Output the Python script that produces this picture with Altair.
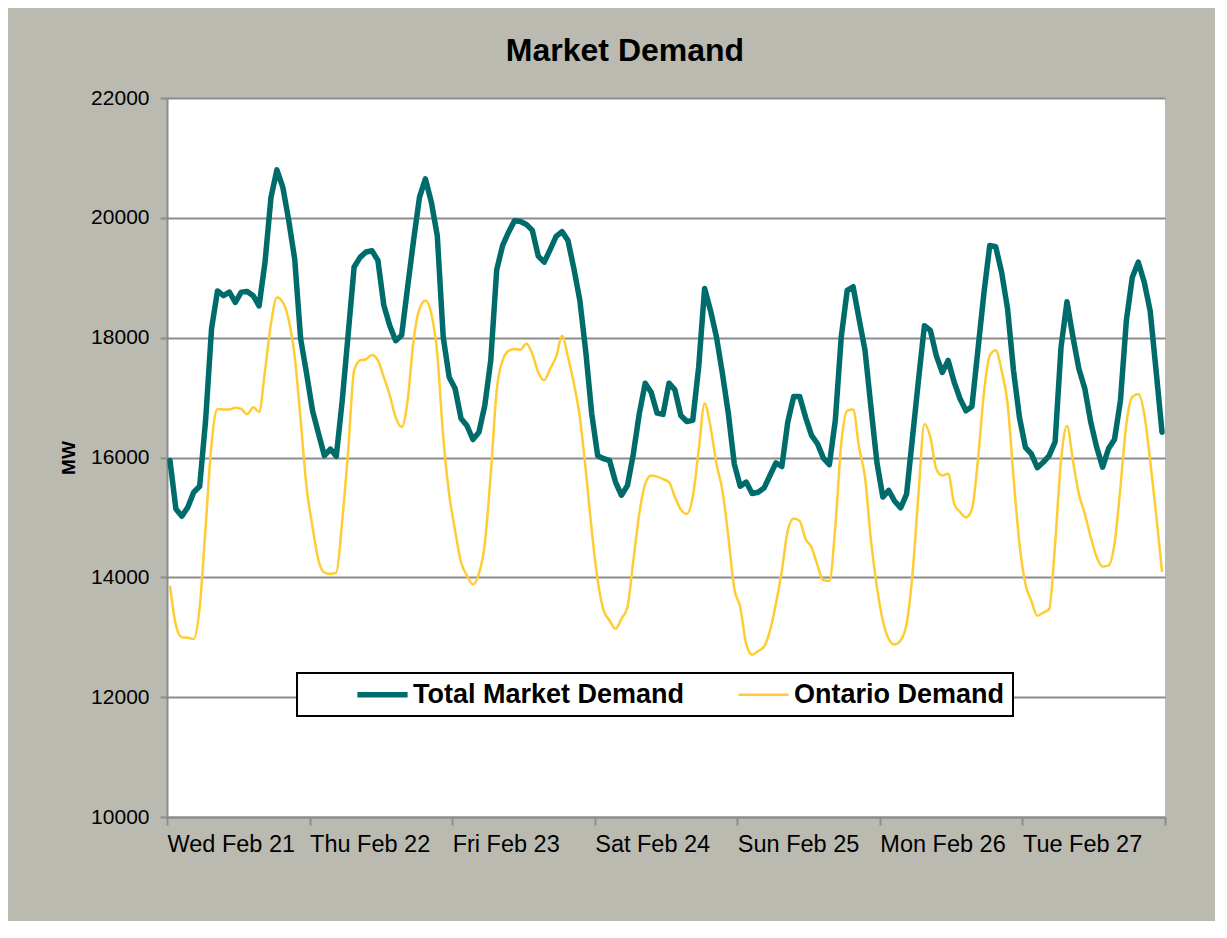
import json
import altair as alt
import pandas as pd

days = ["Wed Feb 21", "Thu Feb 22", "Fri Feb 23", "Sat Feb 24",
        "Sun Feb 25", "Mon Feb 26", "Tue Feb 27"]
series_names = ["Total Market Demand", "Ontario Demand"]
series_colors = ["#006B6B", "#FFCC33"]
series_widths = [5.5, 2.5]
y_ticks = [10000, 12000, 14000, 16000, 18000, 20000, 22000]

# hourly values, one row of 24 per day
total_market = [
    15950, 15140, 15020, 15170, 15420, 15520, 16620, 18150, 18780, 18700, 18760, 18590,
    18760, 18770, 18700, 18530, 19260, 20340, 20800, 20510, 19950, 19310, 17980, 17400,
    16780, 16400, 16030, 16140, 16020, 16950, 18060, 19180, 19340, 19430, 19450, 19290,
    18540, 18200, 17950, 18040, 18840, 19620, 20340, 20650, 20260, 19700, 18010, 17340,
    17150, 16650, 16530, 16300, 16420, 16870, 17620, 19130, 19540, 19760, 19950, 19940,
    19890, 19790, 19360, 19260, 19470, 19690, 19770, 19620, 19150, 18620, 17760, 16730,
    16030, 15980, 15950, 15590, 15370, 15530, 16060, 16730, 17240, 17090, 16740, 16720,
    17240, 17130, 16700, 16600, 16620, 17510, 18820, 18450, 18010, 17400, 16730, 15890,
    15520, 15590, 15400, 15420, 15490, 15700, 15910, 15850, 16590, 17020, 17020, 16670,
    16370, 16230, 15990, 15880, 16620, 18010, 18790, 18850, 18310, 17790, 16840, 15920,
    15340, 15450, 15270, 15160, 15390, 16340, 17290, 18200, 18120, 17700, 17420, 17620,
    17260, 16980, 16780, 16850, 17790, 18730, 19540, 19520, 19090, 18480, 17450, 16670,
    16170, 16060, 15830, 15920, 16030, 16260, 17840, 18600, 18010, 17480, 17150, 16590,
    16170, 15840, 16150, 16300, 16950, 18290, 19010, 19260, 18930, 18450, 17450, 16420,
]
ontario = [
    13860, 13200, 13000, 12990, 12970, 13500, 14840, 16230, 16810, 16800, 16800, 16830,
    16810, 16720, 16840, 16760, 17450, 18230, 18670, 18590, 18290, 17680, 16620, 15500,
    14840, 14280, 14080, 14060, 14080, 14950, 16120, 17450, 17620, 17640, 17710, 17620,
    17340, 17040, 16670, 16510, 16950, 17950, 18480, 18620, 18400, 17730, 16340, 15390,
    14780, 14250, 14030, 13880, 14060, 14560, 15730, 17120, 17620, 17780, 17810, 17800,
    17900, 17730, 17420, 17290, 17480, 17680, 18030, 17680, 17230, 16670, 15780, 14780,
    13950, 13450, 13280, 13140, 13310, 13500, 14280, 15060, 15560, 15700, 15680, 15640,
    15590, 15340, 15130, 15060, 15340, 16120, 16900, 16510, 15890, 15450, 14670, 13810,
    13500, 12890, 12710, 12770, 12840, 13110, 13560, 14110, 14780, 14980, 14940, 14640,
    14500, 14200, 13950, 13940, 14840, 16230, 16780, 16800, 16170, 15670, 14620, 13840,
    13280, 12970, 12880, 12950, 13220, 14060, 15390, 16560, 16340, 15810, 15700, 15730,
    15230, 15090, 15000, 15140, 15950, 17060, 17700, 17790, 17450, 16900, 15670, 14560,
    13890, 13610, 13360, 13410, 13470, 14560, 15950, 16530, 15950, 15390, 15060, 14670,
    14340, 14180, 14200, 14560, 15510, 16560, 17010, 17060, 16730, 15950, 15060, 14090,
]

rows = []
for name, vals in zip(series_names, [total_market, ontario]):
    for i, v in enumerate(vals):
        rows.append({"hour": i + 0.5, "MW": v, "series": name})
df = pd.DataFrame(rows)

FONT = "Liberation Sans"
n_hours = 24 * len(days)
label_expr = f"{json.dumps(days)}[datum.value / 24] || ''"

legend = alt.Legend(
    title=None, orient="none", legendX=130, legendY=575,
    direction="horizontal", columns=2, gridAlign="all",
    padding=8, fillColor="white", strokeColor="black",
    labelFont=FONT, labelFontSize=27, labelFontWeight="bold", labelColor="black",
    labelLimit=500,
    symbolType="M-3,0H3", symbolSize=280, symbolOffset=64, labelOffset=17,
    columnPadding=1,
)

x_enc = alt.X(
    "hour:Q",
    scale=alt.Scale(domain=[0, n_hours], nice=False, zero=False),
    axis=alt.Axis(
        values=list(range(0, n_hours + 1, 24)), labelExpr=label_expr, title=None,
        grid=False, labelAlign="left", labelBaseline="top", labelPadding=7,
        labelFontSize=23.5, tickSize=8, labelOverlap=False, labelBound=False,
        labelFlush=False,
    ),
)
y_enc = alt.Y(
    "MW:Q",
    scale=alt.Scale(domain=[y_ticks[0], y_ticks[-1]], nice=False, zero=False),
    axis=alt.Axis(
        values=y_ticks, format="d", title="MW", grid=True, tickSize=7,
        labelPadding=11, labelFontSize=21, titlePadding=12,
        titleFontSize=19, titleFontWeight="bold", titleFont=FONT,
    ),
)
color_enc = alt.Color("series:N", scale=alt.Scale(domain=series_names, range=series_colors),
                      legend=legend)
width_enc = alt.StrokeWidth("series:N", scale=alt.Scale(domain=series_names, range=series_widths),
                            legend=legend)

base = alt.Chart(df).encode(x=x_enc, y=y_enc, color=color_enc, strokeWidth=width_enc)

total_line = base.transform_filter(alt.datum.series == series_names[0]).mark_line(
    interpolate="linear", strokeJoin="round", strokeCap="round")
ont_line = base.transform_filter(alt.datum.series == series_names[1]).mark_line(
    interpolate="monotone")

chart = (
    alt.layer(total_line, ont_line)
    .properties(
        width=998, height=719,
        title=alt.TitleParams("Market Demand", font=FONT, fontSize=32, fontWeight="bold",
                              color="black", anchor="middle", dx=-41, dy=30, offset=24,
                              baseline="alphabetic"),
        autosize=alt.AutoSizeParams(type="none"),
        padding={"left": 159, "top": 90, "right": 50, "bottom": 104},
        background="#BBBAB0",
    )
    .configure_view(fill="white", strokeWidth=0)
    .configure_axis(
        labelFont=FONT, titleFont=FONT, labelColor="black", titleColor="black",
        domainColor="#8C8C8C", domainWidth=2, tickColor="#8C8C8C", tickWidth=2,
        gridColor="#8C8C8C", gridWidth=2,
    )
    .configure_axisLeft(titleFontSize=19, titleFontWeight="bold")
    .configure_legend(strokeWidth=2)
)

chart.save("out.html", embed_options={"renderer": "svg", "actions": False})
